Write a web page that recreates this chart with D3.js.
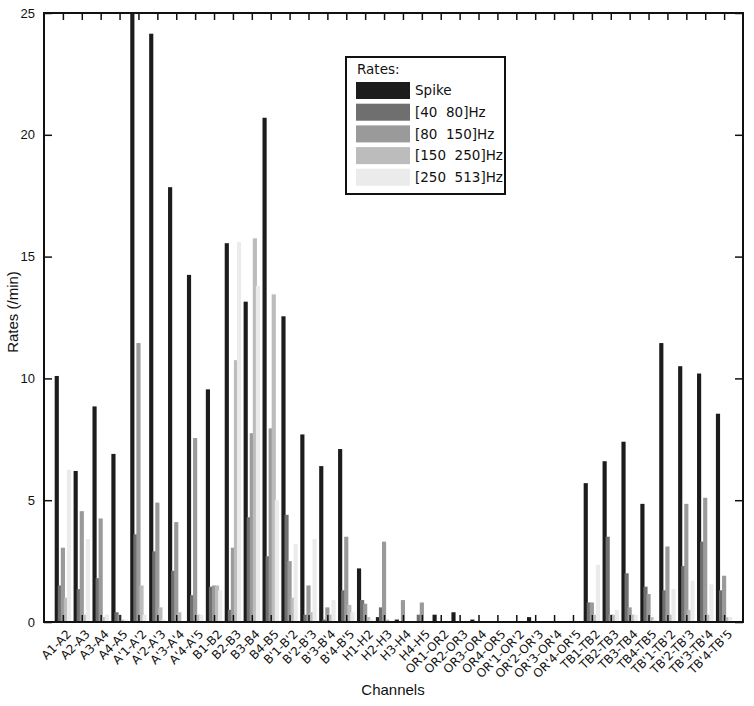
<!DOCTYPE html>
<html>
<head>
<meta charset="utf-8">
<script src="https://cdn.jsdelivr.net/npm/d3@7"></script>
<style>
  body { margin: 0; background: #fff; }
  text { fill: #111; }
</style>
</head>
<body>
<div id="chart"></div>
<script>
const channels = ['A1-A2', 'A2-A3', 'A3-A4', 'A4-A5', "A'1-A'2", "A'2-A'3", "A'3-A'4", "A'4-A'5",
  'B1-B2', 'B2-B3', 'B3-B4', 'B4-B5', "B'1-B'2", "B'2-B'3", "B'3-B'4", "B'4-B'5",
  'H1-H2', 'H2-H3', 'H3-H4', 'H4-H5', 'OR1-OR2', 'OR2-OR3', 'OR3-OR4', 'OR4-OR5',
  "OR'1-OR'2", "OR'2-OR'3", "OR'3-OR'4", "OR'4-OR'5", 'TB1-TB2', 'TB2-TB3', 'TB3-TB4', 'TB4-TB5',
  "TB'1-TB'2", "TB'2-TB'3", "TB'3-TB'4", "TB'4-TB'5"];

const seriesNames = ['Spike', '[40  80]Hz', '[80  150]Hz', '[150  250]Hz', '[250  513]Hz'];
const seriesColors = ['#1c1c1c', '#6f6f6f', '#9a9a9a', '#bcbcbc', '#ebebeb'];

const spike = [10.1, 6.2, 8.85, 6.9, 25, 24.15, 17.85, 14.25,
  9.55, 15.55, 13.15, 20.7, 12.55, 7.7, 6.4, 7.1,
  2.2, 0.2, 0.1, 0, 0.3, 0.4, 0.1, 0,
  0, 0.2, 0, 0, 5.7, 6.6, 7.4, 4.85,
  11.45, 10.5, 10.2, 8.55];
const hz40_80 = [1.5, 1.35, 1.8, 0.4, 3.6, 2.9, 2.1, 1.1,
  1.45, 0.5, 4.3, 2.7, 4.4, 0.3, 0.1, 1.3,
  0.9, 0.6, 0, 0.3, 0, 0, 0, 0,
  0, 0, 0, 0, 0.8, 3.5, 2.0, 1.45,
  1.3, 2.3, 3.3, 1.3];
const hz80_150 = [3.05, 4.55, 4.25, 0.3, 11.45, 4.9, 4.1, 7.55,
  1.5, 3.05, 7.75, 7.95, 2.5, 1.5, 0.6, 3.5,
  0.75, 3.3, 0.9, 0.8, 0, 0, 0, 0,
  0, 0, 0, 0, 0.8, 0.3, 0.6, 1.15,
  3.1, 4.85, 5.1, 1.9];
const hz150_250 = [1.0, 0.3, 0.2, 0.1, 1.5, 0.6, 0.4, 0.3,
  1.5, 10.75, 15.75, 13.45, 1.0, 0.4, 0.3, 0.7,
  0.2, 0.1, 0, 0, 0, 0, 0, 0,
  0, 0, 0, 0, 0.3, 0.3, 0.3, 0.2,
  0.3, 0.5, 0.3, 0.2];
const hz250_513 = [6.25, 3.4, 0.3, 0.1, 0.3, 0.1, 0, 0.3,
  1.3, 15.6, 13.8, 5.0, 3.2, 3.4, 0.9, 0.4,
  0.1, 0, 0, 0, 0, 0, 0, 0,
  0, 0, 0, 0, 2.35, 0.5, 0.3, 0.1,
  1.35, 1.7, 1.55, 0.2];
const yTicks = [0, 5, 10, 15, 20, 25];

const allSeries = [spike, hz40_80, hz80_150, hz150_250, hz250_513];

const width = 754;
const height = 706;
const margin = {top: 13, right: 11, bottom: 84, left: 44};

const svg = d3.select('#chart')
    .append('svg')
    .attr('width', width)
    .attr('height', height);

// x positions 1..36 inside [0, 37], like the original plot
const x = d3.scaleLinear()
    .domain([0, channels.length + 1])
    .range([margin.left, width - margin.right]);

const y = d3.scaleLinear()
    .domain([0, 25])
    .range([height - margin.bottom, margin.top]);

const step = x(1) - x(0);
const offset = step * 0.162;
const barW = step * 0.22;

const bars = svg.append('g');
allSeries.forEach((vals, s) => {
  bars.selectAll('.s' + s)
      .data(vals)
      .enter()
      .append('rect')
      .attr('class', 's' + s)
      .attr('x', (d, i) => x(i + 1) + (s - 2) * offset - barW / 2)
      .attr('y', d => y(Math.min(d, 25)))
      .attr('width', barW)
      .attr('height', d => y(0) - y(Math.min(d, 25)))
      .attr('fill', seriesColors[s]);
});

const tickIdx = d3.range(1, channels.length + 1);

// bottom axis, ticks inside
const xAxis = svg.append('g')
    .attr('transform', 'translate(0,' + y(0) + ')')
    .call(d3.axisTop(x).tickValues(tickIdx).tickSize(7).tickFormat(''));
xAxis.select('.domain').remove();
xAxis.selectAll('line').attr('stroke', '#111').attr('stroke-width', 1.5);

// top axis ticks
const xTop = svg.append('g')
    .attr('transform', 'translate(0,' + y(25) + ')')
    .call(d3.axisBottom(x).tickValues(tickIdx).tickSize(7).tickFormat(''));
xTop.select('.domain').remove();
xTop.selectAll('line').attr('stroke', '#111').attr('stroke-width', 1.5);

// left axis
const yAxis = svg.append('g')
    .attr('transform', 'translate(' + margin.left + ',0)')
    .call(d3.axisRight(y).tickValues(yTicks).tickSize(8).tickFormat(''));
yAxis.select('.domain').remove();
yAxis.selectAll('line').attr('stroke', '#111').attr('stroke-width', 1.5);

svg.append('g')
    .selectAll('text')
    .data(yTicks)
    .enter()
    .append('text')
    .attr('x', margin.left - 9)
    .attr('y', d => y(d))
    .attr('dy', '0.35em')
    .attr('text-anchor', 'end')
    .style('font-family', 'Liberation Sans, Arial, sans-serif')
    .style('font-size', '13px')
    .text(d => d);

// right axis ticks
const yRight = svg.append('g')
    .attr('transform', 'translate(' + (width - margin.right) + ',0)')
    .call(d3.axisLeft(y).tickValues(yTicks).tickSize(8).tickFormat(''));
yRight.select('.domain').remove();
yRight.selectAll('line').attr('stroke', '#111').attr('stroke-width', 1.5);

// box
svg.append('rect')
    .attr('x', margin.left)
    .attr('y', margin.top)
    .attr('width', width - margin.right - margin.left)
    .attr('height', y(0) - margin.top)
    .attr('fill', 'none')
    .attr('stroke', '#111')
    .attr('stroke-width', 2);

// rotated channel labels
svg.append('g')
    .selectAll('text')
    .data(channels)
    .enter()
    .append('text')
    .attr('transform', (d, i) => 'translate(' + (x(i + 1) + 3) + ',' + (y(0) + 7) + ') rotate(-45)')
    .attr('text-anchor', 'end')
    .attr('dy', '0.7em')
    .style('font-family', 'DejaVu Sans, Verdana, sans-serif')
    .style('font-size', '12px')
    .text(d => d);

svg.append('text')
    .attr('x', 393)
    .attr('y', 695)
    .attr('text-anchor', 'middle')
    .style('font-family', 'Liberation Sans, Arial, sans-serif')
    .style('font-size', '15px')
    .text('Channels');

svg.append('text')
    .attr('transform', 'translate(18,312) rotate(-90)')
    .attr('text-anchor', 'middle')
    .style('font-family', 'Liberation Sans, Arial, sans-serif')
    .style('font-size', '15px')
    .text('Rates (/min)');

// legend
const legend = svg.append('g').attr('transform', 'translate(346,57)');
legend.append('rect')
    .attr('width', 159)
    .attr('height', 137)
    .attr('fill', '#fff')
    .attr('stroke', '#111')
    .attr('stroke-width', 2);
legend.append('text')
    .attr('x', 11)
    .attr('y', 17)
    .style('font-family', 'DejaVu Sans, Verdana, sans-serif')
    .style('font-size', '13.5px')
    .text('Rates:');
seriesNames.forEach((name, i) => {
  legend.append('rect')
      .attr('x', 10)
      .attr('y', 25 + i * 21.7)
      .attr('width', 54)
      .attr('height', 17)
      .attr('fill', seriesColors[i]);
  legend.append('text')
      .attr('x', 69)
      .attr('y', 33.5 + i * 21.7)
      .attr('dy', '0.35em')
      .style('font-family', 'DejaVu Sans, Verdana, sans-serif')
      .style('font-size', '13.5px')
      .style('white-space', 'pre')
      .text(name);
});
</script>
</body>
</html>
